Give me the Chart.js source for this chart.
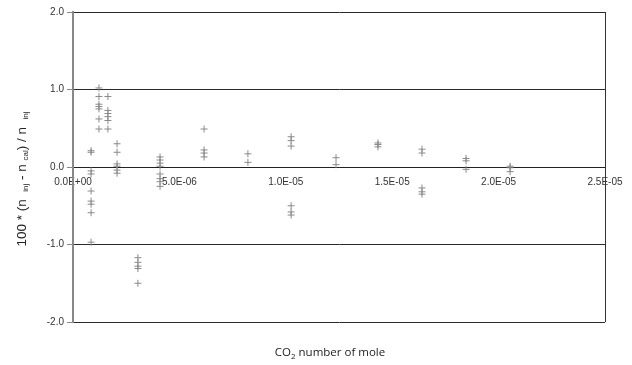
<!DOCTYPE html>
<html>
<head>
<meta charset="utf-8">
<script src="https://cdn.jsdelivr.net/npm/chart.js@4/dist/chart.umd.min.js"></script>
<style>
  html, body { margin: 0; padding: 0; background: #fff; }
  #wrap { width: 632px; height: 365px; position: relative; }
</style>
</head>
<body>
<div id="wrap"><canvas id="chart"></canvas></div>
<script>
// CO2 amount (mol) for each injection group
const moleX = [0.85e-6, 1.22e-6, 1.64e-6, 2.07e-6, 3.05e-6, 4.09e-6, 6.16e-6,
               8.22e-6, 1.025e-5, 1.236e-5, 1.433e-5, 1.64e-5, 1.847e-5, 2.054e-5];
// relative deviation values per group
const deviations = [
  [0.21, 0.19, -0.05, -0.09, -0.31, -0.44, -0.48, -0.59, -0.97],
  [1.02, 0.91, 0.81, 0.78, 0.75, 0.62, 0.49],
  [0.91, 0.73, 0.69, 0.65, 0.60, 0.49],
  [0.30, 0.19, 0.04, 0.01, -0.04, -0.08],
  [-1.17, -1.23, -1.28, -1.31, -1.50],
  [0.13, 0.09, 0.05, 0.01, -0.09, -0.15, -0.19, -0.25],
  [0.49, 0.22, 0.18, 0.13],
  [0.17, 0.06],
  [0.39, 0.34, 0.27, -0.50, -0.58, -0.62],
  [0.12, 0.03],
  [0.31, 0.29, 0.26],
  [0.23, 0.18, -0.27, -0.32, -0.35],
  [0.11, 0.08, -0.03],
  [0.01, -0.01, -0.06]
];
const xRange = [0, 2.5e-5];
const xStep = 5e-6;
const yRange = [-2, 2];
const yStep = 1;

const points = [];
moleX.forEach((x, i) => {
  deviations[i].forEach(v => points.push({ x: x, y: v }));
});

function sciLabel(v) {
  if (Math.abs(v) < 1e-15) return '0.0E+00';
  const parts = v.toExponential(1).split('e');
  const n = parseInt(parts[1], 10);
  return parts[0] + 'E' + (n < 0 ? '-' : '+') + String(Math.abs(n)).padStart(2, '0');
}

// draws text made of normal + subscript pieces, centred on (0,0)
function drawRich(ctx, segs, size, subSize, family) {
  let total = 0;
  segs.forEach(s => {
    ctx.font = (s.sub ? subSize : size) + 'px ' + family;
    s.w = ctx.measureText(s.t).width;
    total += s.w;
  });
  let x = -total / 2;
  ctx.textBaseline = 'middle';
  ctx.textAlign = 'left';
  segs.forEach(s => {
    ctx.font = (s.sub ? subSize : size) + 'px ' + family;
    ctx.fillText(s.t, x, s.sub ? size * 0.3 : 0);
    x += s.w;
  });
}

const extras = {
  id: 'extras',
  afterDraw(chart) {
    const ctx = chart.ctx;
    const a = chart.chartArea;
    ctx.save();
    // right frame edge
    ctx.strokeStyle = '#333';
    ctx.lineWidth = 1;
    ctx.beginPath();
    ctx.moveTo(a.right + 0.5, a.top);
    ctx.lineTo(a.right + 0.5, a.bottom);
    ctx.stroke();

    ctx.fillStyle = '#222';
    // x axis title
    ctx.save();
    ctx.translate(330, 353);
    drawRich(ctx, [{ t: 'CO' }, { t: '2', sub: true }, { t: ' number of mole' }], 11.5, 8, '"Open Sans", sans-serif');
    ctx.restore();

    // y axis title
    ctx.save();
    ctx.translate(22, 179);
    ctx.rotate(-Math.PI / 2);
    drawRich(ctx, [
      { t: '100 * (n  ' }, { t: 'inj', sub: true }, { t: ' - n ' }, { t: 'cal', sub: true },
      { t: ') / n  ' }, { t: 'inj', sub: true }
    ], 13.5, 8, '"Liberation Sans", Arial, sans-serif');
    ctx.restore();
    ctx.restore();
  }
};

new Chart(document.getElementById('chart'), {
  type: 'scatter',
  data: {
    datasets: [{
      data: points,
      pointStyle: 'cross',
      pointRadius: 3.5,
      pointBorderColor: '#8a8a8a',
      pointBorderWidth: 1,
      pointHoverRadius: 3.5
    }]
  },
  options: {
    responsive: true,
    maintainAspectRatio: false,
    animation: false,
    layout: { padding: { left: 0, right: 27, top: 12, bottom: 43 } },
    plugins: {
      legend: { display: false },
      tooltip: { enabled: false }
    },
    scales: {
      x: {
        type: 'linear',
        position: { y: 0 },
        min: xRange[0],
        max: xRange[1],
        grid: { display: false, drawTicks: false },
        border: { display: true, color: '#222', width: 1 },
        ticks: {
          stepSize: xStep,
          autoSkip: false,
          maxRotation: 0,
          padding: 9,
          color: '#333',
          font: { family: '"Liberation Sans", Arial, sans-serif', size: 10 },
          callback: v => sciLabel(v)
        }
      },
      y: {
        type: 'linear',
        min: yRange[0],
        max: yRange[1],
        afterFit(scale) { scale.width = 73; },
        grid: {
          color: '#2a2a2a',
          lineWidth: 1,
          drawTicks: true,
          tickLength: 6,
          tickColor: '#888'
        },
        border: { display: true, color: '#888', width: 2 },
        ticks: {
          stepSize: yStep,
          padding: 3,
          color: '#333',
          font: { family: '"Liberation Sans", Arial, sans-serif', size: 10 },
          callback: v => v.toFixed(1)
        }
      }
    }
  },
  plugins: [extras]
});
</script>
</body>
</html>
